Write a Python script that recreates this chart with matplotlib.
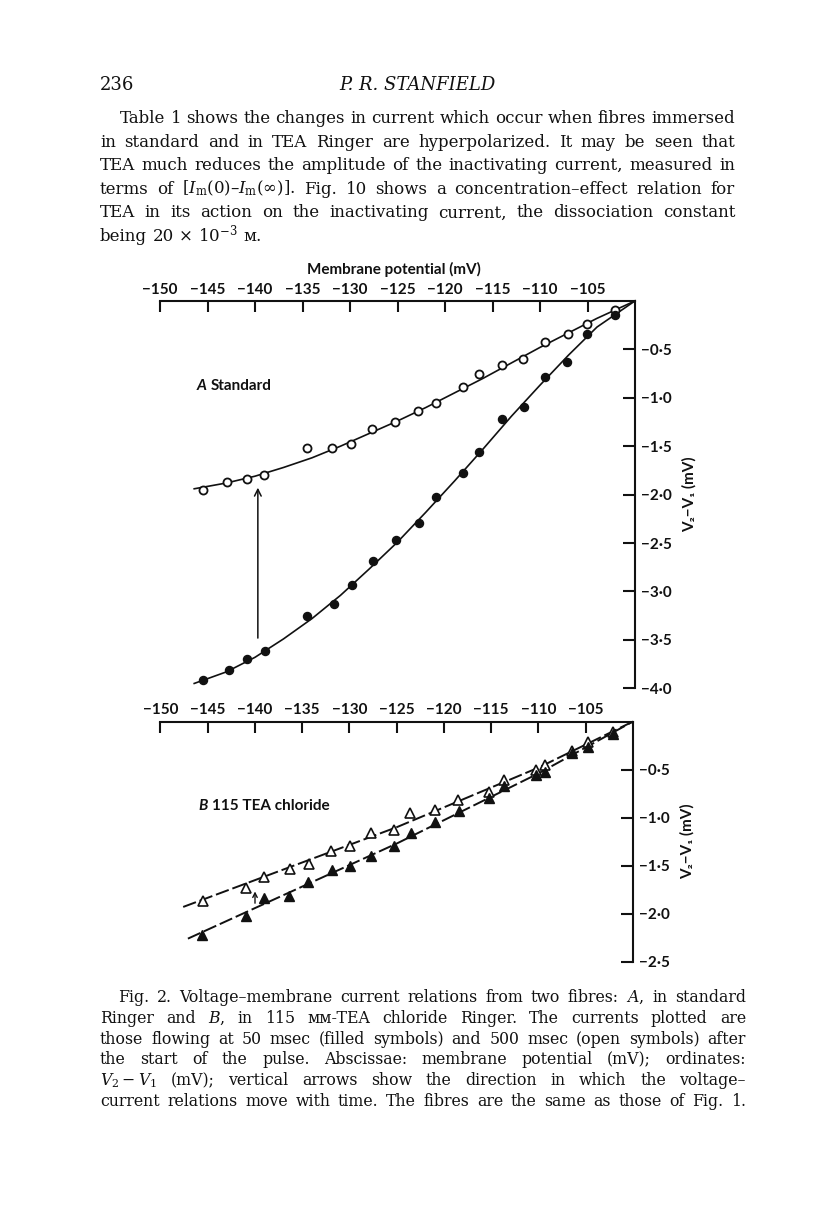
import matplotlib.pyplot as plt

W, H = 816, 1229

# ---- data (membrane potential mV, V2-V1 mV) ----
# A: standard Ringer
a_open_mv = [-145.5, -142.9, -140.8, -139.1, -134.5, -131.9, -129.9, -127.7, -125.3, -122.8,
             -120.9, -118.1, -116.4, -114.0, -111.8, -109.5, -107.1, -105.1, -102.1]
a_open_v = [-1.95, -1.87, -1.84, -1.80, -1.52, -1.52, -1.48, -1.32, -1.25, -1.14,
            -1.05, -0.89, -0.75, -0.66, -0.60, -0.42, -0.34, -0.24, -0.09]
a_fill_mv = [-145.5, -142.7, -140.8, -139.0, -134.5, -131.7, -129.8, -127.6, -125.2, -122.7,
             -120.9, -118.1, -116.4, -114.0, -111.7, -109.5, -107.2, -105.1, -102.1]
a_fill_v = [-3.91, -3.81, -3.70, -3.62, -3.25, -3.13, -2.93, -2.69, -2.47, -2.29,
            -2.02, -1.78, -1.56, -1.22, -1.10, -0.79, -0.63, -0.34, -0.15]

# hand-drawn curves of panel A (vertices)
a_open_curve_mv = [-146.4, -143, -140, -137, -134, -131, -128, -125, -122, -119, -116, -113, -110, -107, -104, -100]
a_open_curve_v = [-1.94, -1.88, -1.81, -1.72, -1.62, -1.50, -1.37, -1.24, -1.10, -0.95, -0.80, -0.64, -0.48, -0.33, -0.18, 0.0]
a_fill_curve_mv = [-146.4, -143, -140, -137, -134, -131, -128, -125, -122, -119, -116, -113, -110, -107, -104, -100]
a_fill_curve_v = [-3.95, -3.83, -3.68, -3.49, -3.28, -3.04, -2.77, -2.49, -2.18, -1.86, -1.53, -1.19, -0.87, -0.56, -0.27, 0.0]

# B: 115 mM TEA chloride
b_open_mv = [-145.5, -140.9, -139.1, -136.3, -134.3, -132.0, -129.9, -127.7, -125.3, -123.55,
             -121.0, -118.55, -115.2, -113.7, -110.3, -109.3, -106.5, -104.8, -102.1]
b_open_v = [-1.87, -1.73, -1.62, -1.54, -1.48, -1.35, -1.30, -1.16, -1.13, -0.95,
            -0.92, -0.82, -0.73, -0.61, -0.50, -0.45, -0.31, -0.21, -0.11]
b_fill_mv = [-145.6, -140.9, -139.1, -136.4, -134.4, -131.9, -129.9, -127.7, -125.3, -123.45,
             -121.0, -118.4, -115.2, -113.7, -110.3, -109.3, -106.5, -104.8, -102.1]
b_fill_v = [-2.22, -2.02, -1.84, -1.82, -1.67, -1.55, -1.50, -1.40, -1.30, -1.16,
            -1.05, -0.93, -0.80, -0.67, -0.56, -0.53, -0.33, -0.27, -0.13]

b_open_line_mv = [-147.6, -125, -110, -100]
b_open_line_v = [-1.93, -1.10, -0.48, 0.0]
b_fill_line_mv = [-147.1, -125, -110, -100]
b_fill_line_v = [-2.26, -1.27, -0.54, 0.0]

x_ticks = [-150, -145, -140, -135, -130, -125, -120, -115, -110, -105]
a_y_ticks = [-0.5, -1.0, -1.5, -2.0, -2.5, -3.0, -3.5, -4.0]
b_y_ticks = [-0.5, -1.0, -1.5, -2.0, -2.5]

para_lines = [
    "Table 1 shows the changes in current which occur when fibres immersed",
    "in standard and in TEA Ringer are hyperpolarized. It may be seen that",
    "TEA much reduces the amplitude of the inactivating current, measured in",
    r"terms of [$I_\mathrm{m}$(0)–$I_\mathrm{m}$($\infty$)]. Fig. 10 shows a concentration–effect relation for",
    "TEA in its action on the inactivating current, the dissociation constant",
    r"being 20 × 10$^{-3}$ м.",
]
caption_lines = [
    "Fig. 2. Voltage–membrane current relations from two fibres: $A$, in standard",
    "Ringer and $B$, in 115 мм-TEA chloride Ringer. The currents plotted are",
    "those flowing at 50 msec (filled symbols) and 500 msec (open symbols) after",
    "the start of the pulse. Abscissae: membrane potential (mV); ordinates:",
    "$V_2-V_1$ (mV); vertical arrows show the direction in which the voltage–",
    "current relations move with time. The fibres are the same as those of Fig. 1.",
]

plt.rcParams['mathtext.fontset'] = 'dejavuserif'
INK = '#111111'
SANS = ['Lato', 'DejaVu Sans']
SERIF = ['DejaVu Serif']

fig = plt.figure(figsize=(W / 100, H / 100), dpi=100)
renderer = fig.canvas.get_renderer()


def fx(x):
    return x / W


def fy(y):
    return 1 - y / H


def put_line(line, x0, x1, base, size, justify=True):
    # place words one by one so the line is flush on both sides
    words = line.split(' ')
    texts = [fig.text(0, fy(base), w, fontsize=size, family=SERIF, color=INK, va='baseline')
             for w in words]
    widths = [t.get_window_extent(renderer).width for t in texts]
    natural = size * 1.389 * 0.32
    if justify and len(words) > 1:
        gap = max((x1 - x0 - sum(widths)) / (len(words) - 1), 2.5)
    else:
        gap = natural
    x = x0
    for t, w in zip(texts, widths):
        t.set_x(fx(x))
        x += w + gap


def style_axis(ax, yticks, ylo):
    ax.set_xlim(-150, -100)
    ax.set_ylim(ylo, 0)
    ax.xaxis.tick_top()
    ax.yaxis.tick_right()
    ax.set_xticks(x_ticks)
    ax.set_xticklabels(['\u2212%d' % abs(v) for v in x_ticks])
    ax.set_yticks(yticks)
    ax.set_yticklabels(['\u2212' + ('%.1f' % abs(v)).replace('.', '\u00b7') for v in yticks])
    ax.tick_params(axis='x', direction='in', length=8, width=1.5, pad=3, colors=INK,
                   labelsize=11)
    ax.tick_params(axis='y', direction='in', length=9, width=1.5, pad=4, colors=INK,
                   labelsize=11)
    for lab in ax.get_xticklabels() + ax.get_yticklabels():
        lab.set_family(SANS)
        lab.set_fontweight('bold')
    for side in ['left', 'bottom']:
        ax.spines[side].set_visible(False)
    for side in ['top', 'right']:
        ax.spines[side].set_linewidth(1.5)
        ax.spines[side].set_color(INK)
    ax.patch.set_alpha(0)


# ---- panel A ----
axA = fig.add_axes([fx(160), fy(688.3), (635 - 160) / W, (688.3 - 300.9) / H])
style_axis(axA, a_y_ticks, -4.0)
axA.plot(a_open_curve_mv, a_open_curve_v, color=INK, lw=1.2, clip_on=False)
axA.plot(a_fill_curve_mv, a_fill_curve_v, color=INK, lw=1.2, clip_on=False)
axA.plot(a_open_mv, a_open_v, 'o', ms=5.8, mfc='white', mec=INK, mew=1.3, clip_on=False)
axA.plot(a_fill_mv, a_fill_v, 'o', ms=5.8, color=INK, clip_on=False)
axA.annotate('', xy=(-139.7, -1.90), xytext=(-139.7, -3.51),
             arrowprops=dict(arrowstyle='->', lw=1.1, color=INK, mutation_scale=12))
axA.set_ylabel('V\u2082\u2212V\u2081 (mV)', family=SANS, fontweight='bold', fontsize=11,
               color=INK, labelpad=8)
axA.yaxis.set_label_position('right')

# ---- panel B ----
axB = fig.add_axes([fx(160.5), fy(961.7), (633 - 160.5) / W, (961.7 - 721.5) / H])
style_axis(axB, b_y_ticks, -2.5)
axB.plot(b_open_line_mv, b_open_line_v, color=INK, lw=1.4, ls=(0, (7, 2)), clip_on=False)
axB.plot(b_fill_line_mv, b_fill_line_v, color=INK, lw=1.4, ls=(0, (7, 2)), clip_on=False)
axB.plot(b_open_mv, b_open_v, '^', ms=6.5, mfc='white', mec=INK, mew=1.2, clip_on=False)
axB.plot(b_fill_mv, b_fill_v, '^', ms=6.5, color=INK, clip_on=False)
axB.annotate('', xy=(-140.0, -1.74), xytext=(-140.0, -1.92),
             arrowprops=dict(arrowstyle='->', lw=1.0, color=INK, mutation_scale=8))
axB.set_ylabel('V\u2082\u2212V\u2081 (mV)', family=SANS, fontweight='bold', fontsize=11,
               color=INK, labelpad=8)
axB.yaxis.set_label_position('right')

# ---- chart annotations ----
fig.text(fx(394), fy(269), 'Membrane potential (mV)', family=SANS, fontweight='bold',
         fontsize=11, color=INK, ha='center', va='center')
fig.text(fx(197), fy(386), 'A', family=SANS, fontweight='bold', style='italic',
         fontsize=11, color=INK, va='center')
fig.text(fx(211), fy(386), 'Standard', family=SANS, fontweight='bold',
         fontsize=11, color=INK, va='center')
fig.text(fx(198), fy(806), 'B', family=SANS, fontweight='bold', style='italic',
         fontsize=11, color=INK, va='center')
fig.text(fx(212), fy(806), '115 TEA chloride', family=SANS, fontweight='bold',
         fontsize=11, color=INK, va='center')

# ---- page text ----
fig.text(fx(100), fy(90), '236', family=SERIF, fontsize=13, color=INK, va='baseline')
fig.text(fx(417), fy(90), 'P. R. STANFIELD', family=SERIF, style='italic', fontsize=13,
         color=INK, va='baseline', ha='center')
for i, line in enumerate(para_lines):
    base = 123 + 23.6 * i
    x0 = 120 if i == 0 else 100
    put_line(line, x0, 735, base, 12.0, justify=(i < len(para_lines) - 1))
for i, line in enumerate(caption_lines):
    base = 1002 + 20.8 * i
    x0 = 118 if i == 0 else 100
    put_line(line, x0, 746, base, 11.3)

fig.savefig('out.png', dpi=100, facecolor='white')
